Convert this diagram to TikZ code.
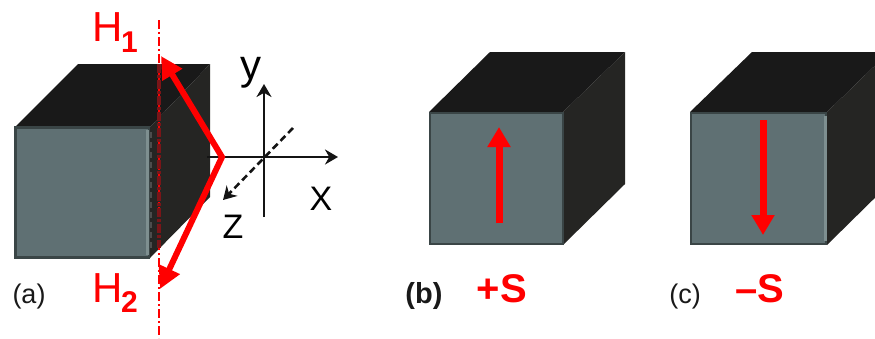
\documentclass[tikz,border=0pt]{standalone}
\usepackage{fontspec}
\setmainfont{Liberation Sans}
\usetikzlibrary{arrows.meta}
\definecolor{frontc}{HTML}{5F7073}
\definecolor{edgec}{HTML}{3A4546}
\definecolor{topc}{HTML}{191919}
\definecolor{sidec}{HTML}{252523}
\definecolor{litec}{HTML}{7E8F90}
\definecolor{darkred}{HTML}{7A1518}
\tikzset{
  front/.style={fill=frontc,draw=edgec,line width=2.5pt,line join=miter},
  topf/.style={fill=topc,draw=none},
  sidef/.style={fill=sidec,draw=none},
  lite/.style={draw=litec,line width=3pt},
  redarrow/.style={draw=red,line width=7pt,-{Triangle[length=20pt,width=22pt]}},
  redkink/.style={draw=red,line width=6pt,line join=miter,{Triangle[length=22pt,width=22pt]}-{Triangle[length=22pt,width=22pt]}},
  axis/.style={draw=black!92,line width=2.6pt,-{Stealth[length=13pt,width=15pt]}},
  axisd/.style={axis,dash pattern=on 7pt off 4pt},
  redlab/.style={text=red,font=\fontsize{42pt}{42pt}\selectfont,inner sep=0pt},
  redsub/.style={text=red,font=\fontsize{30pt}{30pt}\selectfont\bfseries,inner sep=0pt},
  blacklab/.style={text=black,font=\fontsize{34pt}{34pt}\selectfont,inner sep=0pt},
  caplab/.style={text=black!90,font=\fontsize{27pt}{27pt}\selectfont,inner sep=0pt},
  redbold/.style={text=red,font=\fontsize{40pt}{40pt}\selectfont\bfseries,inner sep=0pt}
}
\begin{document}
\begin{tikzpicture}[x=1pt,y=-1pt]
\useasboundingbox (0,0) rectangle (875,338);
\clip (0,0) rectangle (875,338);
% cube a
\fill[topf] (15,127) -- (78,64) -- (210,64) -- (150,127) -- cycle;
\fill[sidef] (150,127) -- (210,64) -- (210,197) -- (150,258) -- cycle;
\draw[front] (15.5,127.5) rectangle (149,257.5);
\draw[lite] (147.5,130) -- (147.5,255);
% cube b
\fill[topf] (429,112) -- (490,52) -- (625,52) -- (563,112) -- cycle;
\fill[sidef] (563,112) -- (625,52) -- (625,184) -- (563,245) -- cycle;
\draw[front] (430,113) rectangle (563,244);
% cube c
\fill[topf] (690,112) -- (752,52) -- (889,52) -- (827,112) -- cycle;
\fill[sidef] (827,112) -- (889,52) -- (889,184) -- (827,245) -- cycle;
\draw[front] (691,113) rectangle (826,244);
\draw[lite] (825,116) -- (825,241);
% coordinates
\coordinate (dtop) at (159,20);
\coordinate (dbot) at (159,338);
\coordinate (din) at (159,64);
\coordinate (dout) at (159,248);
\coordinate (etop) at (151,132);
\coordinate (ebot) at (151,250);
\coordinate (h1tip) at (161,56);
\coordinate (kink) at (222,157);
\coordinate (h2tip) at (160,289);
\coordinate (yb) at (264,217);
\coordinate (yt) at (264,84);
\coordinate (xl) at (207,157);
\coordinate (xr) at (338,157);
\coordinate (zs) at (293,128);
\coordinate (ze) at (223,200);
\coordinate (bs) at (499,223);
\coordinate (be) at (499,127);
\coordinate (cs) at (763,120);
\coordinate (ce) at (763,235);
% axes
\draw[axis] (yb) -- (yt);
\draw[axis] (xl) -- (xr);
\draw[axisd] (zs) -- (ze);
% red
\draw[red,line width=2pt,dash pattern=on 9pt off 3pt on 2pt off 3pt] (dtop) -- (dbot);
\draw[darkred,line width=4.5pt,dash pattern=on 9pt off 2pt on 3pt off 2pt] (din) -- (dout);
\draw[black!70,line width=1.5pt,dash pattern=on 6pt off 4pt] (etop) -- (ebot);
\draw[redkink] (h1tip) -- (kink) -- (h2tip);
\draw[redarrow] (bs) -- (be);
\draw[redarrow] (cs) -- (ce);
% labels
\node[redlab,anchor=base west] (h1) at (92,41) {H};
\node[redsub,anchor=base west] (s1) at (121,52) {1};
\node[redlab,anchor=base west] (h2) at (92,302) {H};
\node[redsub,anchor=base west] (s2) at (121,312) {2};
\node[blacklab,anchor=base,font=\fontsize{42pt}{42pt}\selectfont] (ly) at (251,79) {y};
\node[blacklab,anchor=base] (lx) at (321,210) {X};
\node[blacklab,anchor=base] (lz) at (233,238) {Z};
\node[caplab,anchor=base] (la) at (29,303) {(a)};
\node[caplab,anchor=base,font=\fontsize{29pt}{29pt}\selectfont\bfseries] (lb) at (424,303) {(b)};
\node[caplab,anchor=base] (lc) at (685,303) {(c)};
\node[redbold,anchor=base] (sp) at (502,302) {+S};
\node[redbold,anchor=base] (sm) at (760,302) {–S};
\end{tikzpicture}
\end{document}
